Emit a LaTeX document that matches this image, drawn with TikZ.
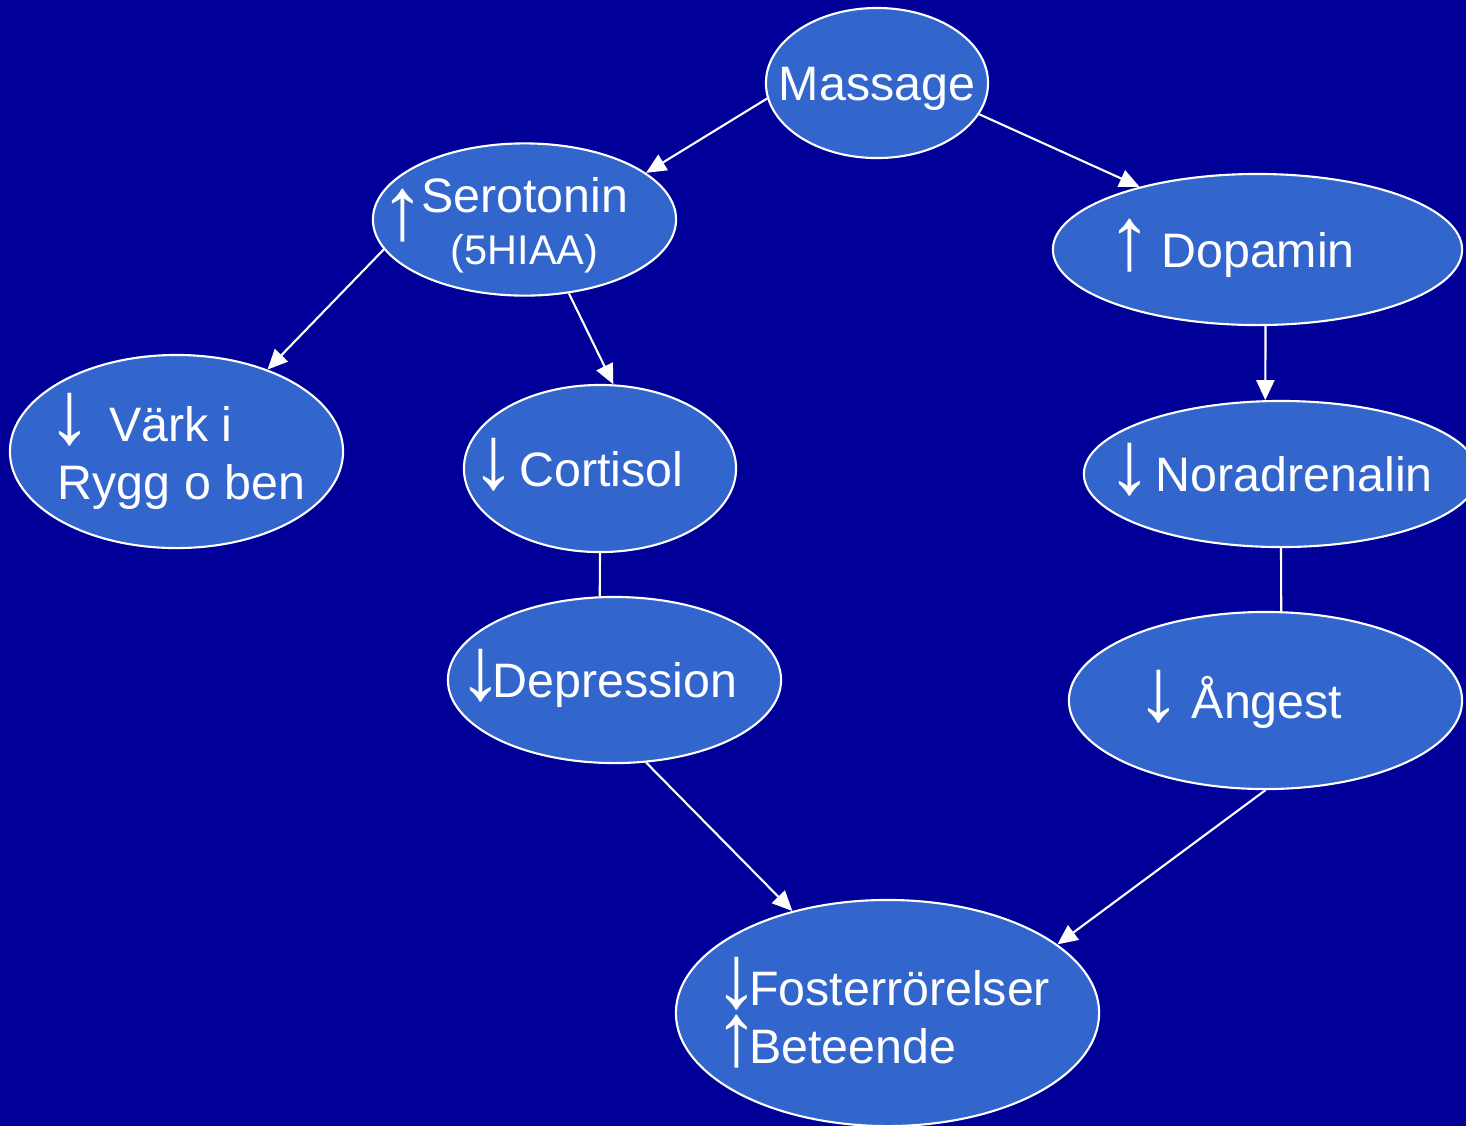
\documentclass[tikz,border=0pt]{standalone}
\usepackage{fontspec}
\setmainfont{Liberation Sans}
\usetikzlibrary{shapes.geometric,arrows.meta}
\definecolor{bgblue}{RGB}{0,0,153}
\definecolor{blobblue}{RGB}{51,102,204}
\newcommand{\uparr}{\makebox[0.5em]{\raisebox{-0.05em}{\scalebox{1.85}{↑}}}}
\newcommand{\dnarr}{\makebox[0.5em]{\raisebox{-0.05em}{\scalebox{1.85}{↓}}}}

\begin{document}
\begin{tikzpicture}[x=0.01cm,y=-0.01cm,
	blob/.style={ellipse,draw=white,line width=0.6pt,fill=blobblue,text=white,
		inner xsep=-3cm,inner ysep=0pt,font=\fontsize{13.75}{16.5}\selectfont},
	oneline/.style={text height=0.35cm,text depth=0pt},
	link/.style={white,line width=0.6pt},
	arr/.style={link,-{Triangle[length=2mm,width=1.8mm]}}]
	\fill[bgblue] (0,0) rectangle (1466,1126);
	\useasboundingbox (0,0) rectangle (1466,1126);
	% the ellipses
	\node[blob,oneline,minimum width=2.22cm,minimum height=1.5cm] (massage) at (877,83) {Massage};
	\node[blob,minimum width=3.03cm,minimum height=1.51cm,align=center] (sero) at (524.5,219.5)
		{\rule{0pt}{0.47cm}\llap{\raisebox{-0.24cm}[0pt][0pt]{\uparr}\hspace{0.06cm}}Serotonin\\[-0.06cm]{\fontsize{11.8}{14}\selectfont(5HIAA)}};
	\node[blob,oneline,minimum width=4.09cm,minimum height=1.51cm] (dopamin) at (1257.5,249.5) {\uparr\hspace{0.19cm}Dopamin\hspace*{0.42cm}};
	\node[blob,minimum width=3.33cm,minimum height=1.93cm,align=left] (vark) at (176.5,451.5) {\dnarr\hspace{0.27cm}Värk i\\Rygg o ben\hspace*{-0.1cm}};
	\node[blob,oneline,minimum width=2.72cm,minimum height=1.67cm] (cortisol) at (600,468.5) {\dnarr\ Cortisol\hspace*{0.35cm}};
	\node[blob,oneline,minimum width=3.94cm,minimum height=1.46cm] (noradr) at (1281,474) {\dnarr\ Noradrenalin\hspace*{0.11cm}};
	\node[blob,oneline,minimum width=3.33cm,minimum height=1.66cm] (depr) at (614.5,680) {\dnarr Depression\hspace*{0.23cm}};
	\node[blob,oneline,minimum width=3.93cm,minimum height=1.77cm] (angest) at (1265.5,700.5) {\dnarr\hspace{0.21cm}Ångest\hspace*{0.42cm}};
	\node[blob,minimum width=4.23cm,minimum height=2.26cm,align=left] (foster) at (887.5,1013) {\dnarr Fosterrörelser\\\uparr Beteende};
	% connectors
	\draw[arr] (massage.188) -- (sero.21);
	\draw[arr] (massage.343) -- (dopamin.152);
	\draw[arr] (sero.192) -- (vark.42);
	\draw[arr] (sero.301) -- (cortisol.81);
	\draw[arr] (dopamin.276) -- (noradr.102);
	\draw[link] (cortisol.south) -- (depr.100);
	\draw[link] (noradr.south) -- (angest.80);
	\draw[arr] (depr.291) -- (foster.133);
	\draw[arr] (angest.south) -- (foster.22);
\end{tikzpicture}
\end{document}
